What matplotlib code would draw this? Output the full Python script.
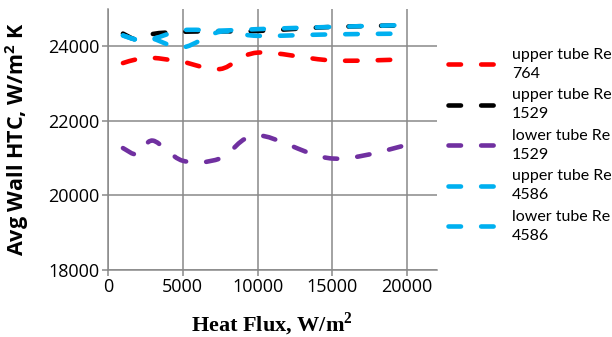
import matplotlib
matplotlib.use("Agg")
import matplotlib.pyplot as plt
from matplotlib.path import Path
from matplotlib.patches import PathPatch
from matplotlib.lines import Line2D
import numpy as np

plt.rcParams['lines.scale_dashes'] = False

# ---- data ----
heat_flux = [1000, 2000, 3000, 5000, 7500, 10000, 15000, 20000]
upper_764 = [23550, 23660, 23690, 23580, 23390, 23830, 23620, 23650]
upper_1529 = [24340, 24170, 24330, 24390, 24400, 24410, 24520, 24560]
lower_1529 = [21270, 21100, 21470, 20930, 20990, 21610, 20990, 21350]
upper_4586 = [24290, 24170, 24200, 24430, 24420, 24460, 24520, 24570]
lower_4586 = [24290, 24170, 24200, 23970, 24390, 24280, 24320, 24340]

labels = ["upper tube Re\n764", "upper tube Re\n1529", "lower tube Re\n1529",
          "upper tube Re\n4586", "lower tube Re\n4586"]
series = [upper_764, upper_1529, lower_1529, upper_4586, lower_4586]
colors = ["#FF0000", "#000000", "#7030A0", "#00B0F0", "#00B0F0"]

x_ticks = [0, 5000, 10000, 15000, 20000]
y_ticks = [18000, 20000, 22000, 24000]
xlim = (0, 22000)
ylim = (18000, 25000)

W, H = 612, 337
fig = plt.figure(figsize=(W / 100, H / 100), dpi=100)
ax = fig.add_axes([108 / W, 1 - 270 / H, (437 - 108) / W, (270 - 9) / H])
ax.set_xlim(*xlim)
ax.set_ylim(*ylim)

grid_c = "#898989"
ax.set_xticks(x_ticks)
ax.set_yticks(y_ticks)
ax.grid(True, color=grid_c, linewidth=1.1)
for s in ["top", "right"]:
    ax.spines[s].set_visible(False)
for s in ["left", "bottom"]:
    ax.spines[s].set_color(grid_c)
    ax.spines[s].set_linewidth(1.1)
ax.tick_params(axis="both", direction="out", length=4, width=1.1, color=grid_c,
               labelsize=13, labelcolor="#000000", pad=2)
for lab in ax.get_xticklabels() + ax.get_yticklabels():
    lab.set_family("Open Sans")

dash = (0, (9, 14.5))
lw = 3.3


def smooth_path(xs, ys):
    # Bezier smoothing (Catmull-Rom style) in normalized axis space
    xr = xlim[1] - xlim[0]
    yr = ylim[1] - ylim[0]
    P = np.column_stack([(np.array(xs) - xlim[0]) / xr * (437 - 108),
                         (np.array(ys) - ylim[0]) / yr * (270 - 9)])
    n = len(P)
    verts = [P[0]]
    codes = [Path.MOVETO]
    for i in range(n - 1):
        p0 = P[i - 1] if i > 0 else P[i]
        p1 = P[i]
        p2 = P[i + 1]
        p3 = P[i + 2] if i + 2 < n else P[i + 1]
        c1 = p1 + (p2 - p0) / 6.0
        c2 = p2 - (p3 - p1) / 6.0
        verts += [c1, c2, p2]
        codes += [Path.CURVE4] * 3
    V = np.array(verts)
    V[:, 0] = V[:, 0] / (437 - 108) * xr + xlim[0]
    V[:, 1] = V[:, 1] / (270 - 9) * yr + ylim[0]
    return Path(V, codes)


handles = []
for ys, c, lab in zip(series, colors, labels):
    patch = PathPatch(smooth_path(heat_flux, ys), fill=False, edgecolor=c,
                      linewidth=lw, linestyle=dash, capstyle="round",
                      joinstyle="round", zorder=3)
    ax.add_patch(patch)
    handles.append(Line2D([], [], color=c, linewidth=lw, linestyle=dash,
                          dash_capstyle="round"))

ax.set_ylabel("Avg Wall HTC, W/m$^\\mathregular{2}$ K", fontsize=15.5,
              fontweight="bold", family="Open Sans")
ax.yaxis.set_label_coords(-(108 - 31) / (437 - 108), 0.5)
ax.set_xlabel("Heat Flux, W/m$^\\mathregular{2}$", fontsize=16,
              fontweight="bold", family="Liberation Serif")
ax.xaxis.set_label_coords((272 - 108) / (437 - 108), -(311 - 270) / (270 - 9))

leg = fig.legend(handles, labels, loc="upper left",
                 bbox_to_anchor=(448 / W, 1 - 48 / H),
                 frameon=False, prop={"family": "Lato", "size": 11.5},
                 handlelength=3.2, handletextpad=0.8, labelspacing=0.47,
                 borderaxespad=0, borderpad=0)
for t in leg.get_texts():
    t.set_linespacing(1.45)

fig.savefig("out.png", dpi=100)
